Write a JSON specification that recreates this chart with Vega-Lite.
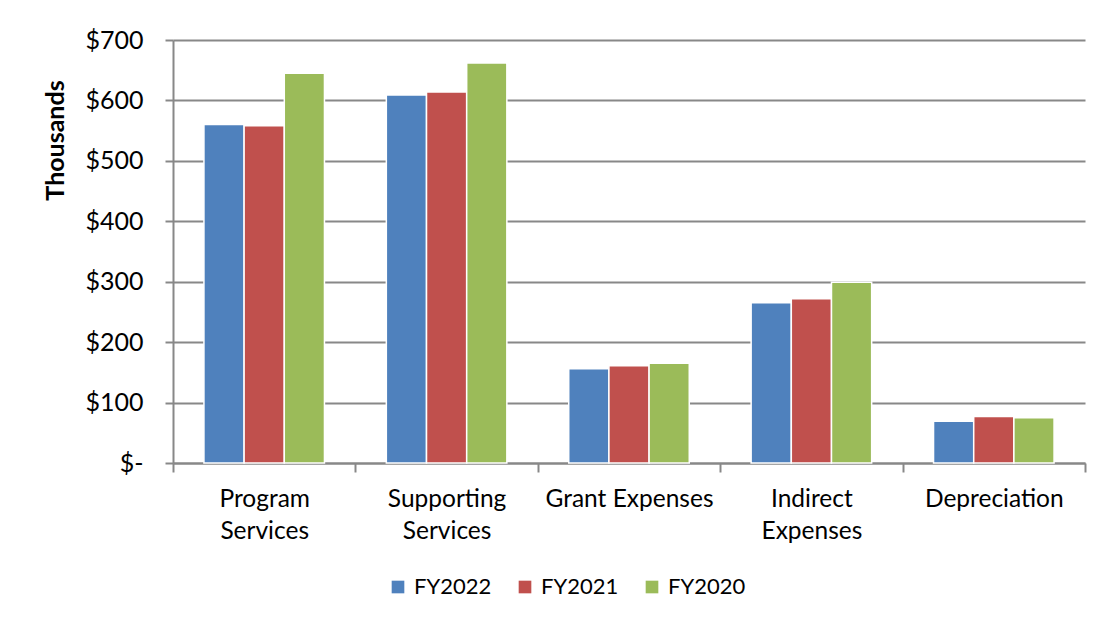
{
  "$schema": "https://vega.github.io/schema/vega-lite/v6.json",
  "autosize": "none",
  "width": 912,
  "height": 423,
  "padding": {"left": 173, "top": 40, "right": 19, "bottom": 160},
  "background": "white",
  "data": {
    "values": [
      {"category": "Program Services", "year": "FY2022", "value": 560},
      {"category": "Program Services", "year": "FY2021", "value": 558},
      {"category": "Program Services", "year": "FY2020", "value": 645},
      {"category": "Supporting Services", "year": "FY2022", "value": 609},
      {"category": "Supporting Services", "year": "FY2021", "value": 614},
      {"category": "Supporting Services", "year": "FY2020", "value": 662},
      {"category": "Grant Expenses", "year": "FY2022", "value": 156},
      {"category": "Grant Expenses", "year": "FY2021", "value": 161},
      {"category": "Grant Expenses", "year": "FY2020", "value": 165},
      {"category": "Indirect Expenses", "year": "FY2022", "value": 265},
      {"category": "Indirect Expenses", "year": "FY2021", "value": 272},
      {"category": "Indirect Expenses", "year": "FY2020", "value": 299},
      {"category": "Depreciation", "year": "FY2022", "value": 69},
      {"category": "Depreciation", "year": "FY2021", "value": 77},
      {"category": "Depreciation", "year": "FY2020", "value": 75}
    ]
  },
  "mark": {"type": "bar", "stroke": "white", "strokeWidth": 1.5},
  "encoding": {
    "x": {
      "field": "category",
      "type": "nominal",
      "sort": ["Program Services", "Supporting Services", "Grant Expenses", "Indirect Expenses", "Depreciation"],
      "scale": {"paddingInner": 0, "paddingOuter": 0},
      "axis": {
        "title": null,
        "labelAngle": 0,
        "tickBand": "extent",
        "tickSize": 9,
        "tickColor": "#888888",
        "tickWidth": 2,
        "domainColor": "#888888",
        "domainWidth": 2,
        "labelPadding": 15,
        "labelFontSize": 24.5,
        "labelColor": "#000000",
        "labelLineHeight": 32,
        "labelBaseline": "top",
        "labelExpr": "datum.value == 'Program Services' ? ['Program', 'Services'] : datum.value == 'Supporting Services' ? ['Supporting', 'Services'] : datum.value == 'Indirect Expenses' ? ['Indirect', 'Expenses'] : datum.value"
      }
    },
    "xOffset": {
      "field": "year",
      "type": "nominal",
      "sort": ["FY2022", "FY2021", "FY2020"],
      "scale": {"paddingInner": 0, "paddingOuter": 0.77}
    },
    "y": {
      "field": "value",
      "type": "quantitative",
      "scale": {"domain": [0, 700], "nice": false},
      "axis": {
        "title": "Thousands",
        "titleFontSize": 25,
        "titleFontWeight": "bold",
        "titleColor": "#000000",
        "titlePadding": 16,
        "titleY": 100,
        "titleAlign": "center",
        "values": [0, 100, 200, 300, 400, 500, 600, 700],
        "labelExpr": "datum.value == 0 ? '$-' : '$' + datum.value",
        "labelFontSize": 25,
        "labelColor": "#000000",
        "labelPadding": 22,
        "tickSize": 8,
        "tickColor": "#888888",
        "tickWidth": 2,
        "domainColor": "#888888",
        "domainWidth": 2,
        "grid": true,
        "gridColor": "#888888",
        "gridWidth": 2
      }
    },
    "color": {
      "field": "year",
      "type": "nominal",
      "sort": ["FY2022", "FY2021", "FY2020"],
      "scale": {"domain": ["FY2022", "FY2021", "FY2020"], "range": ["#4F81BD", "#C0504D", "#9BBB59"]},
      "legend": {
        "title": null,
        "orient": "none",
        "legendX": 214,
        "legendY": 536,
        "direction": "horizontal",
        "symbolType": "square",
        "symbolSize": 160,
        "symbolStrokeWidth": 0,
        "labelFontSize": 22,
        "labelColor": "#000000",
        "labelOffset": 5,
        "columnPadding": 22
      }
    }
  },
  "config": {
    "font": "Lato",
    "view": {"stroke": null},
    "axis": {"labelFont": "Lato", "titleFont": "Lato"},
    "legend": {"labelFont": "Lato"}
  }
}
